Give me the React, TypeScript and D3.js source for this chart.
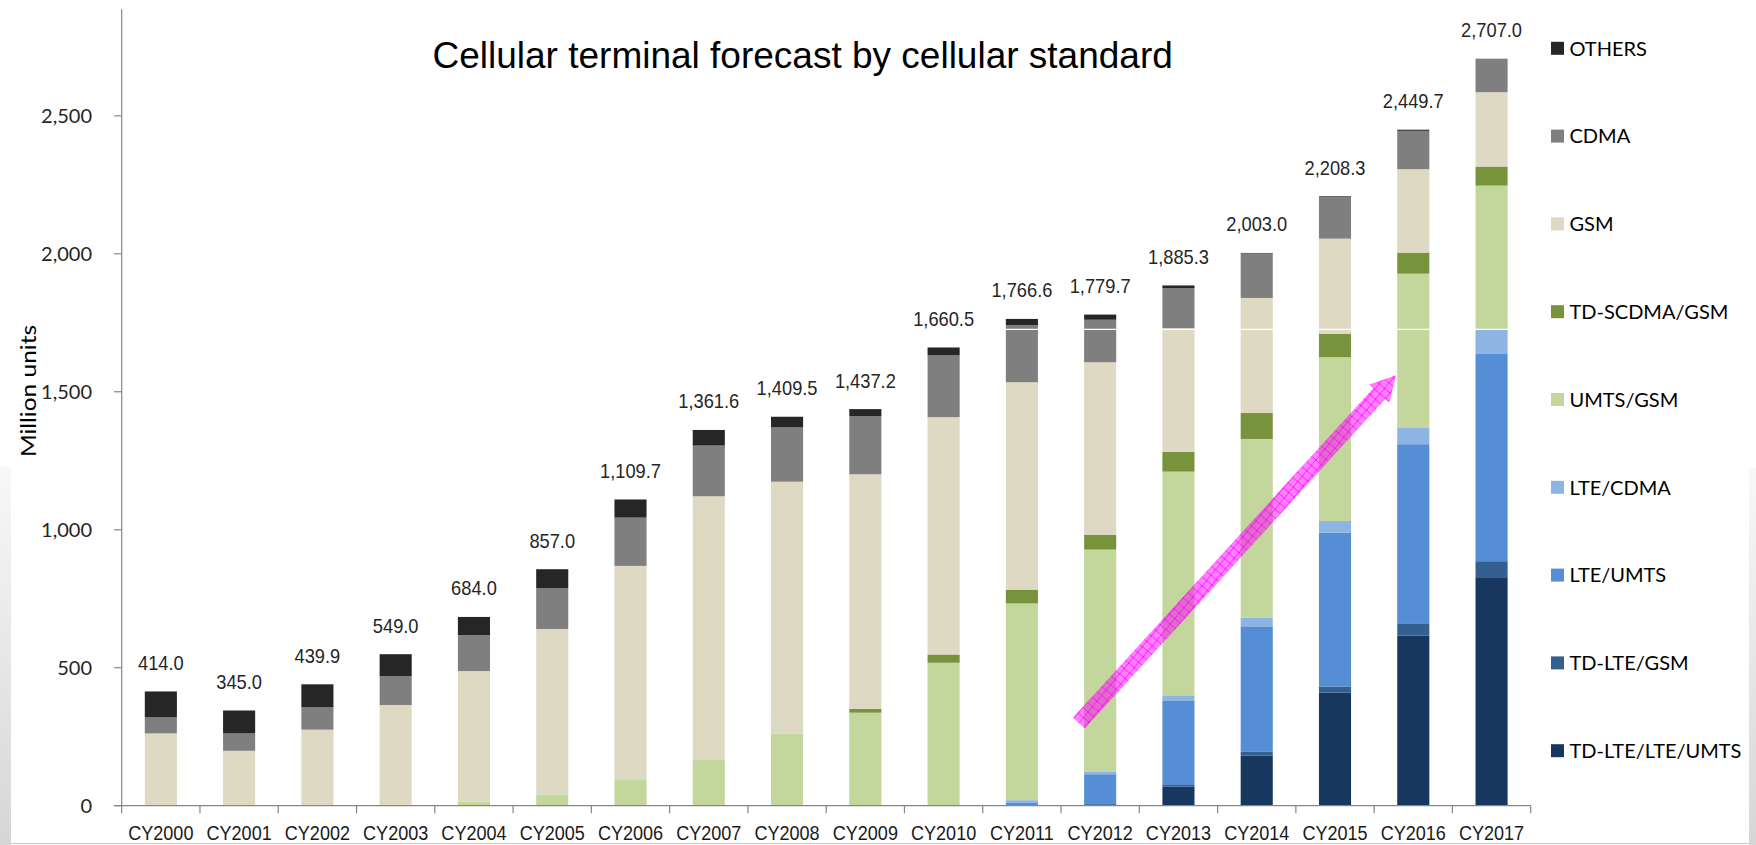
import React from "react";
import * as d3 from "d3";

const categories = ["CY2000","CY2001","CY2002","CY2003","CY2004","CY2005","CY2006","CY2007","CY2008","CY2009","CY2010","CY2011","CY2012","CY2013","CY2014","CY2015","CY2016","CY2017"];

// stacked bottom -> top
const tdLteLteUmts = [0,0,0,0,0,0,0,0,0,0,0,0,3,69,181,410,616,828];
const tdLteGsm     = [0,0,0,0,0,0,0,0,0,0,0,0,3,6,14,22,42.6,58];
const lteUmts      = [0,0,0,0,0,0,0,0,0,0,0,10,108,304.5,455,557,651.4,751];
const lteCdma      = [0,0,0,0,0,0,0,0,0,0,0,10,10,20.5,31,43,59,87];
const umtsGsm      = [0,0,0,3,15,41,96,168,262,337,518,713,804,810.6,648,593,559,523];
const tdScdmaGsm   = [0,0,0,0,0,0,0,0,0,14,30,50,53,71.4,94,84.5,76.4,69];
const gsm          = [262,199,275.5,362,473,599.4,773,953.4,912,850,860,751.6,626,448,417,345.5,302.2,269.7];
const cdma         = [58,63,81,104,130,147.6,175,183.6,197,211,224,207.4,154,145,161,150,139,121];
const others       = [94,83,83.4,80,66,69,65.7,56.6,38.5,25.2,28.5,22,18.7,10.3,2,3.3,4.1,0.3];

const totalLabels = ["414.0","345.0","439.9","549.0","684.0","857.0","1,109.7","1,361.6","1,409.5","1,437.2","1,660.5","1,766.6","1,779.7","1,885.3","2,003.0","2,208.3","2,449.7","2,707.0"];

const seriesNames = ["TD-LTE/LTE/UMTS","TD-LTE/GSM","LTE/UMTS","LTE/CDMA","UMTS/GSM","TD-SCDMA/GSM","GSM","CDMA","OTHERS"];
const seriesValues = [tdLteLteUmts, tdLteGsm, lteUmts, lteCdma, umtsGsm, tdScdmaGsm, gsm, cdma, others];
const seriesColors = ["#17375e","#335f91","#558ed5","#8eb4e3","#c3d69b","#77933c","#ddd9c3","#7f7f7f","#262626"];

const yTicks = [0, 500, 1000, 1500, 2000, 2500];

// arrow annotation in data units (category index, value)
const arrowFrom = { index: 11.73, value: 300 };
const arrowTo = { index: 15.78, value: 1560 };

const W = 1756, H = 845;

export default function App() {
  const x = d3.scaleBand<string>().domain(categories).range([121.7, 1530.7]).paddingInner(0.59).paddingOuter(0.295);
  const y = d3.scaleLinear().domain([0, 2886]).range([805.7, 9.3]);
  const step = x.step();
  const x0 = 121.7;
  const idx = d3.scaleLinear().domain([-0.5, categories.length - 0.5]).range([121.7, 1530.7]);

  const rows = categories.map((c, i) => {
    const r: any = { cat: c };
    seriesNames.forEach((s, k) => (r[s] = seriesValues[k][i]));
    return r;
  });
  const stacked = d3.stack<any>().keys(seriesNames)(rows);
  const tops = categories.map((_, i) => d3.sum(seriesValues, (s) => s[i]));

  // arrow geometry
  const ax1 = idx(arrowFrom.index), ay1 = y(arrowFrom.value);
  const ax2 = idx(arrowTo.index), ay2 = y(arrowTo.value);
  const len = Math.hypot(ax2 - ax1, ay2 - ay1);
  const ang = (Math.atan2(ay2 - ay1, ax2 - ax1) * 180) / Math.PI;
  const bw = 8, hw = 13.5, hl = 25;
  const arrowPts = [
    [0, -bw], [len - hl, -bw], [len - hl, -hw], [len, 0], [len - hl, hw], [len - hl, bw], [0, bw],
  ].map((p) => p.join(",")).join(" ");

  const legendOrder = [...seriesNames.keys()].reverse();

  return (
    <svg width={W} height={H} style={{ position: "absolute", left: 0, top: 0, background: "#fff" }}>
      <defs>
        <linearGradient id="sideGrad" x1="0" y1="0" x2="0" y2="1">
          <stop offset="0" stopColor="#f8f8f8" />
          <stop offset="1" stopColor="#d6d6d6" />
        </linearGradient>
        <pattern id="hatch" width="10" height="10" patternUnits="userSpaceOnUse" patternTransform={`rotate(${ang})`}>
          <rect width="10" height="10" fill="#ff00ff" fillOpacity="0.5" />
          <path d="M0,0 L10,10 M10,0 L0,10" stroke="#ff00ff" strokeWidth="1" strokeOpacity="0.8" />
        </pattern>
      </defs>
      <rect width={W} height={H} fill="#fff" />
      <rect x={0} y={467} width={11} height={H - 467} fill="url(#sideGrad)" />
      <rect x={1749} y={468} width={7} height={H - 468} fill="url(#sideGrad)" />
      <line x1={11} x2={1749} y1={843.5} y2={843.5} stroke="#c8c8c8" strokeWidth={1} />

      {/* title */}
      <text x={432.5} y={68.3} fontFamily="Liberation Sans, Arial, sans-serif" fontSize={37} fill="#000">
        Cellular terminal forecast by cellular standard
      </text>

      {/* bars */}
      {stacked.map((layer, k) => (
        <g key={seriesNames[k]} fill={seriesColors[k]}>
          {layer.map((d, i) => {
            const h = y(d[0]) - y(d[1]);
            if (h <= 0) return null;
            return <rect key={i} x={x(categories[i])} y={y(d[1])} width={x.bandwidth()} height={h} />;
          })}
        </g>
      ))}

      {/* white artifact line */}
      <line x1={116} x2={1531} y1={y(1726)} y2={y(1726)} stroke="#fff" strokeWidth={1.3} />

      {/* axes */}
      <g stroke="#868686" strokeWidth={1.2}>
        <line x1={x0} x2={x0} y1={9.3} y2={y(0)} />
        <line x1={114} x2={1530.7} y1={y(0)} y2={y(0)} />
        {yTicks.map((t) => (
          <line key={t} x1={114} x2={x0} y1={y(t)} y2={y(t)} />
        ))}
        {d3.range(categories.length + 1).map((i) => (
          <line key={i} x1={x0 + i * step} x2={x0 + i * step} y1={y(0)} y2={y(0) + 7.6} />
        ))}
      </g>

      {yTicks.map((t) => (
        <text key={t} x={92} y={y(t) + 7} textAnchor="end" fontFamily="Lato, sans-serif" fontSize={20} fill="#262626">
          {d3.format(",")(t)}
        </text>
      ))}

      <text
        transform="translate(36,391) rotate(-90) scale(1,0.85)"
        textAnchor="middle"
        fontFamily="Lato, sans-serif"
        fontSize={24.5}
        fill="#000"
      >
        Million units
      </text>

      {categories.map((c) => (
        <text
          key={c}
          transform={`translate(${(x(c) as number) + x.bandwidth() / 2},839.5) scale(0.88,1)`}
          textAnchor="middle"
          fontFamily="Liberation Sans, Arial, sans-serif"
          fontSize={20.5}
          fill="#1a1a1a"
        >
          {c}
        </text>
      ))}

      {categories.map((c, i) => (
        <text
          key={c}
          transform={`translate(${(x(c) as number) + x.bandwidth() / 2},${y(tops[i]) - 21.5}) scale(0.87,1)`}
          textAnchor="middle"
          fontFamily="Liberation Sans, Arial, sans-serif"
          fontSize={21}
          fill="#262626"
        >
          {totalLabels[i]}
        </text>
      ))}

      {/* arrow annotation */}
      <g transform={`translate(${ax1},${ay1}) rotate(${ang})`}>
        <polygon points={arrowPts} fill="url(#hatch)" />
      </g>

      {/* legend */}
      {legendOrder.map((k, j) => {
        const cy = 48.3 + j * 87.8;
        return (
          <g key={seriesNames[k]}>
            <rect x={1551} y={cy - 6.5} width={13} height={13} fill={seriesColors[k]} />
            <text x={1569.5} y={cy + 7.2} fontFamily="Lato, sans-serif" fontSize={20} fill="#000">
              {seriesNames[k]}
            </text>
          </g>
        );
      })}
    </svg>
  );
}
